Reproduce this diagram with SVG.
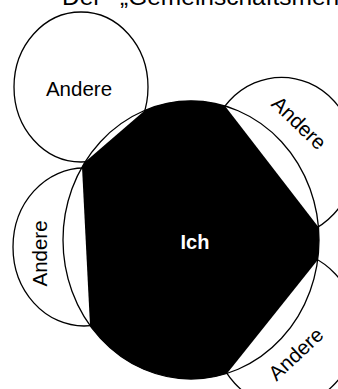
<svg xmlns="http://www.w3.org/2000/svg" width="338" height="389" viewBox="0 0 338 389">
<style>
.c{fill:#fff;stroke:#000;stroke-width:1.3}
.o{fill:none;stroke:#000;stroke-width:1.3}
.t{font-family:"Liberation Sans",Arial,sans-serif;font-size:20.5px;fill:#000;text-anchor:middle}
.ich{font-family:"Liberation Sans",Arial,sans-serif;font-size:20px;font-weight:bold;fill:#fff;text-anchor:middle}
.title{font-family:"Liberation Sans",Arial,sans-serif;font-size:24.5px;fill:#000}
</style>
<rect width="338" height="389" fill="#fff"/>
<text class="title" x="62" y="5">Der <tspan x="120">„Gemeinschaftsmensch“</tspan></text>
<g id="andere-oben-links">
<ellipse class="c" cx="81" cy="87" rx="67" ry="75"/>
<text class="t" x="79" y="96">Andere</text>
</g>
<g id="andere-links">
<ellipse class="c" cx="84" cy="247" rx="71" ry="79"/>
<text class="t" transform="translate(47,253.5) rotate(-90)" x="0" y="0">Andere</text>
</g>
<g id="andere-oben-rechts">
<ellipse class="c" cx="281.6" cy="157.4" rx="73.8" ry="80.1"/>
<text class="t" transform="translate(299,123) rotate(44)" x="0" y="7">Andere</text>
</g>
<g id="andere-unten-rechts">
<ellipse class="c" cx="285" cy="328.6" rx="71.2" ry="77.3"/>
<text class="t" transform="translate(296,354) rotate(-43)" x="0" y="7">Andere</text>
</g>
<g id="ich">
<ellipse class="o" cx="191" cy="240" rx="128" ry="139"/>
<path fill="#000" d="M145,110.3 A128 139 0 0 1 225,106 L318.4,227 A128 139 0 0 1 317.7,260 L227,373.4 A128 139 0 0 1 90,325.4 L82,167.1 A128 139 0 0 1 85,162.1 Z"/>
<text class="ich" x="195" y="249">Ich</text>
</g>
<g id="connectors"/>
</svg>
